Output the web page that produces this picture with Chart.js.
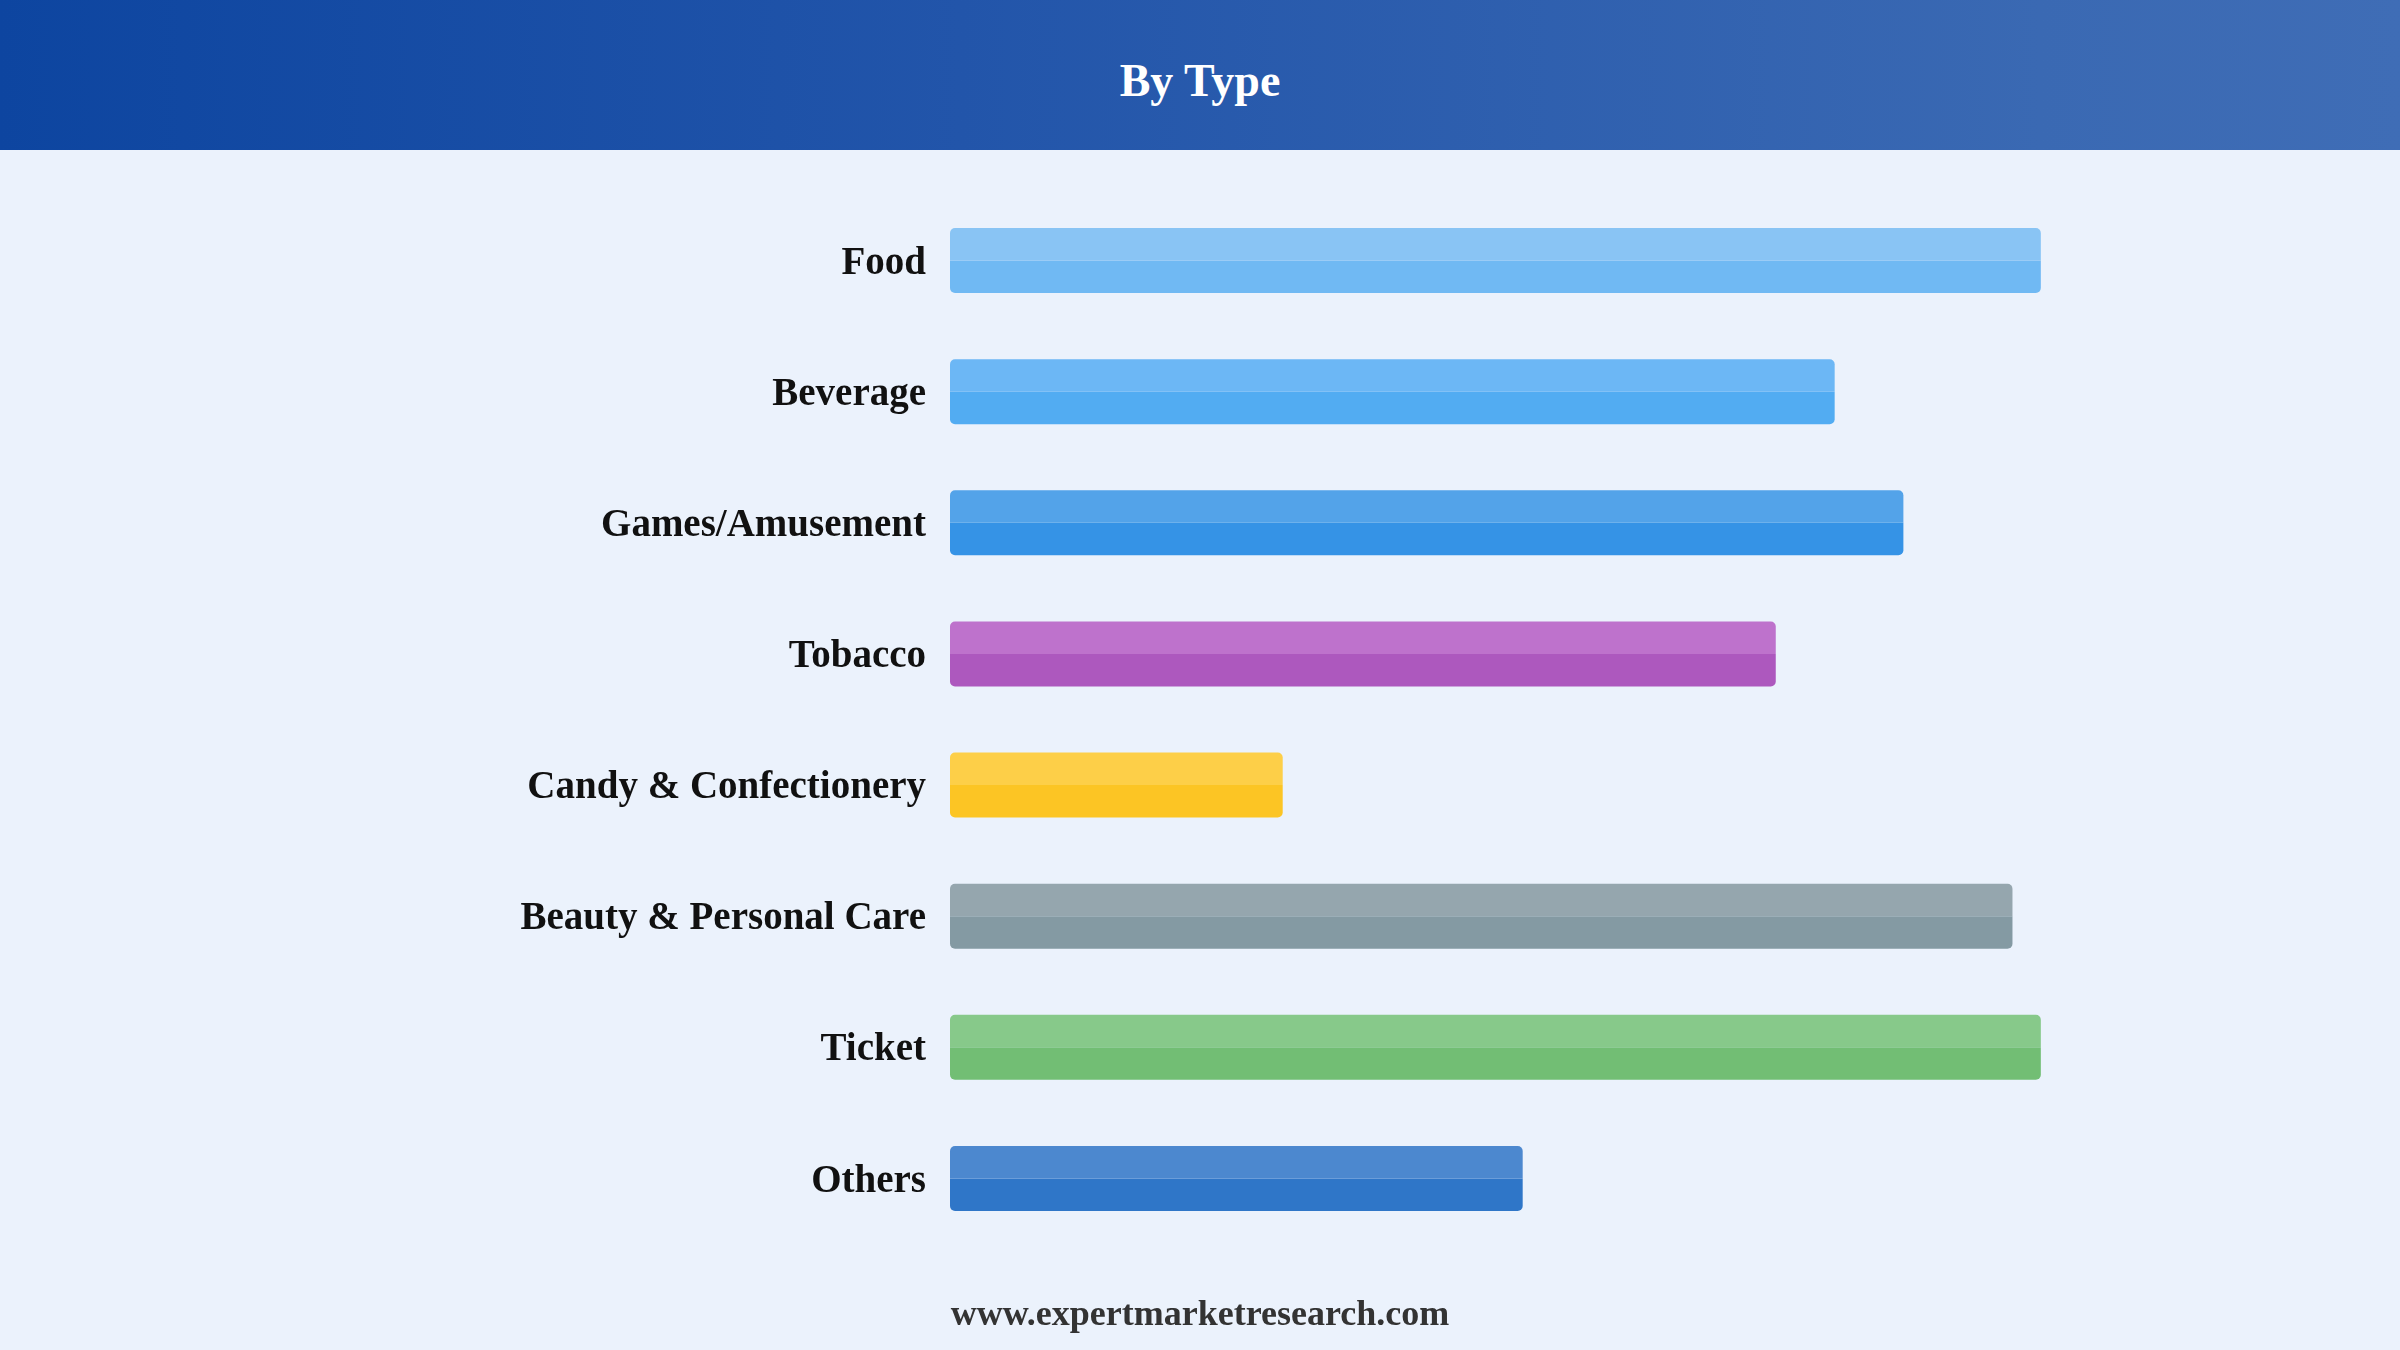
<!DOCTYPE html>
<html>
<head>
<meta charset="utf-8">
<script src="https://cdn.jsdelivr.net/npm/chart.js@4"></script>
<style>
  html, body { margin: 0; padding: 0; }
  body { width: 2400px; height: 1350px; background: #ebf2fc; position: relative; overflow: hidden; font-family: "Liberation Serif", "Times New Roman", serif; }
  #header { position: absolute; left: 0; top: 0; width: 2400px; height: 150px;
    background: linear-gradient(to right, #0d45a0 0%, #2255aa 40%, #3a69b3 85%, #3f6db6 100%);
    display: flex; align-items: center; justify-content: center; }
  #header h1 { margin: 0; color: #fff; font-weight: bold; font-size: 46px; line-height: 1; padding-top: 12px; }
  #footer { position: absolute; left: 0; width: 2400px; top: 1295px; text-align: center; color: #333; font-weight: bold; font-size: 36px; line-height: 1; }
  #wrap { position: absolute; left: 0; top: 0; width: 2400px; height: 1350px; }
</style>
</head>
<body>
<div id="header"><h1>By Type</h1></div>
<div id="wrap"><canvas id="c"></canvas></div>
<div id="footer">www.expertmarketresearch.com</div>
<script>
const categories = ["Food", "Beverage", "Games/Amusement", "Tobacco", "Candy & Confectionery", "Beauty & Personal Care", "Ticket", "Others"];
const values = [100, 81.1, 87.4, 75.7, 30.5, 97.4, 100, 52.5];
const lightColors = ["#89c4f4", "#6cb7f5", "#53a3e9", "#be72cc", "#fdcf48", "#95a6ae", "#87c98a", "#4c88cf"];
const darkColors  = ["#70b9f3", "#52acf2", "#3593e6", "#ad58be", "#fcc524", "#849aa3", "#72be74", "#2f76c8"];

const R = 5;
new Chart(document.getElementById('c'), {
  type: 'bar',
  data: {
    labels: categories,
    datasets: [
      { data: values, backgroundColor: lightColors, borderWidth: 0, borderSkipped: false,
        borderRadius: { topLeft: R, topRight: R, bottomLeft: 0, bottomRight: 0 } },
      { data: values, backgroundColor: darkColors, borderWidth: 0, borderSkipped: false,
        borderRadius: { topLeft: 0, topRight: 0, bottomLeft: R, bottomRight: R } }
    ]
  },
  options: {
    indexAxis: 'y',
    responsive: true,
    maintainAspectRatio: false,
    animation: false,
    devicePixelRatio: 1,
    layout: { padding: { top: 195, bottom: 106, left: 0, right: 141 } },
    plugins: { legend: { display: false }, tooltip: { enabled: false }, title: { display: false } },
    datasets: { bar: { barPercentage: 1, categoryPercentage: 0.495, grouped: true } },
    scales: {
      x: { display: false, min: 0, max: 120 },
      y: {
        grid: { display: false },
        border: { display: false },
        ticks: { color: '#111', padding: 16, labelOffset: 3, font: { family: '"Liberation Serif", "Times New Roman", serif', size: 39, weight: 'bold' } },
        afterFit: (scale) => { scale.width = 950; }
      }
    }
  }
});
</script>
</body>
</html>
